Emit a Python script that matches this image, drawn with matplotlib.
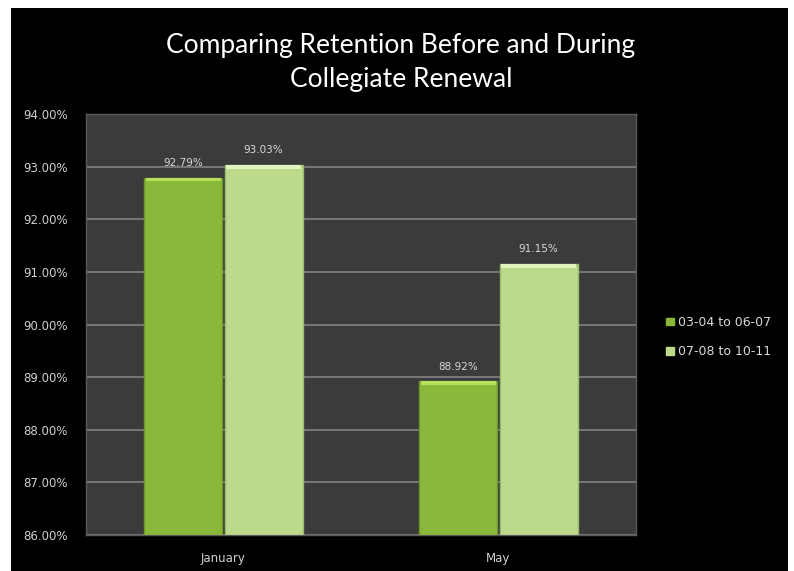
import numpy as np
import matplotlib.pyplot as plt
import matplotlib.patches as mpatches
from matplotlib.ticker import FuncFormatter

categories = ["January", "May"]
series_names = ["03-04 to 06-07", "07-08 to 10-11"]
before = [92.79, 88.92]
during = [93.03, 91.15]

y_min, y_max = 86.0, 94.0
colors = ["#8ab83a", "#bcd98c"]
edge_colors = ["#6f9a2a", "#9dbb70"]
cap_colors = ["#b9e05c", "#e2f3bd"]

plt.rcParams['font.family'] = ['Lato', 'DejaVu Sans']

fig = plt.figure(figsize=(7.94, 5.71), dpi=100, facecolor="white")
# black slide background with a thin white margin on the left/top/right
fig.patches.append(mpatches.Rectangle((11 / 794, 0), (788 - 11) / 794, 1 - 8 / 571,
                                      transform=fig.transFigure, fc="black", ec="none",
                                      zorder=-10))

ax = fig.add_axes([86 / 794, 1 - 535 / 571, 550 / 794, 421 / 571])
ax.set_facecolor("#3b3b3b")
for s in ax.spines.values():
    s.set_color("#5a5a5a")
    s.set_linewidth(1.0)

x = np.arange(len(categories))
width = 0.284
offsets = [-width / 2 - 0.004, width / 2 + 0.004]

for i, vals in enumerate([before, during]):
    xs = x + offsets[i]
    heights = [v - y_min for v in vals]
    ax.bar(xs, heights, width, bottom=y_min, color=colors[i], edgecolor=edge_colors[i],
           linewidth=1.0, zorder=3, label=series_names[i])
    # bright bevel along the top
    ax.bar(xs, [0.07] * len(vals), width * 0.96, bottom=[v - 0.07 for v in vals],
           color=cap_colors[i], linewidth=0, zorder=5)
    for xi, v in zip(xs, vals):
        ax.annotate(f"{v:.2f}%", (xi, v), xytext=(0, 7), textcoords="offset points",
                    ha="center", va="bottom", color="#d9d9d9", fontsize=7.5,
                    family=['DejaVu Sans'], zorder=6)

ax.set_xlim(-0.5, 1.5)
ax.set_ylim(y_min, y_max)
ax.set_yticks(np.arange(86, 94.01, 1))
ax.yaxis.set_major_formatter(FuncFormatter(lambda v, _: f"{v:.2f}%"))
ax.set_xticks(x)
ax.set_xticklabels(categories)
ax.tick_params(axis="both", colors="#d0d0d0", labelsize=8.5, length=0)
ax.tick_params(axis="x", pad=12)
ax.tick_params(axis="y", pad=13)
for lbl in ax.get_yticklabels() + ax.get_xticklabels():
    lbl.set_family(['DejaVu Sans'])
ax.grid(axis="y", color="#7d7d7d", linewidth=1.3, zorder=1)
ax.set_axisbelow(True)

title_x = 401 / 794
fig.text(title_x, 1 - 45 / 571, "Comparing Retention Before and During",
         ha="center", va="center", color="white", fontsize=19)
fig.text(title_x, 1 - 79 / 571, "Collegiate Renewal",
         ha="center", va="center", color="white", fontsize=19)

handles = [mpatches.Patch(color=c) for c in colors]
leg = fig.legend(handles, series_names, loc="center left",
                 bbox_to_anchor=(655 / 794, 1 - 337 / 571), frameon=False,
                 handlelength=0.6, handleheight=0.6, handletextpad=0.3,
                 labelspacing=1.3, prop={"family": ["DejaVu Sans"], "size": 9})
for t in leg.get_texts():
    t.set_color("#d9d9d9")

fig.savefig("out.png", dpi=100, facecolor=fig.get_facecolor())
